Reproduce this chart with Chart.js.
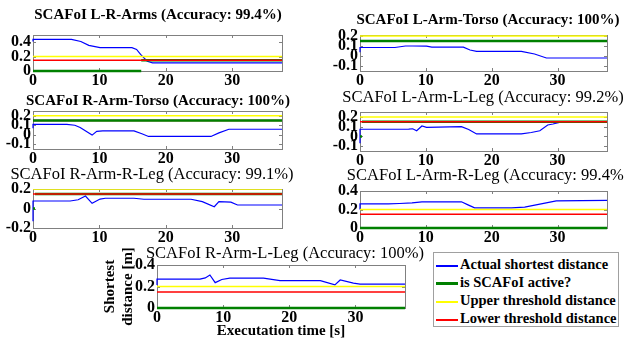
<!DOCTYPE html>
<html>
<head>
<meta charset="utf-8">
<script src="https://cdn.jsdelivr.net/npm/chart.js@4.4.1/dist/chart.umd.min.js"></script>
<style>
  html, body { margin: 0; padding: 0; background: #fff; width: 624px; height: 341px; overflow: hidden; position: relative; }
  canvas { position: absolute; }
  #legend { position: absolute; left: 433px; top: 252px; width: 186px; height: 75px; box-sizing: border-box;
            border: 1px solid #a0a0a0; background: #fff; padding-top: 2px;
            font-family: 'Liberation Serif', serif; font-weight: bold; font-size: 14.5px; color: #000; }
  .row { height: 18px; line-height: 18px; white-space: nowrap; }
  .swatch { display: inline-block; width: 22px; vertical-align: middle; margin: 0 2px 0 2px; }
</style>
</head>
<body>
<div id="legend"></div>
<script>
// shared axes / thresholds
const x_ticks = [0, 10, 20, 30]
const time_max = 37.5
const upper_threshold = 0.2
const lower_threshold = 0.15

const series_labels = ['Actual shortest distance', 'is SCAFoI active?', 'Upper threshold distance', 'Lower threshold distance']

// L-R-Arms
const l_r_arms_time = [0, 0, 5.8, 7.2, 8.4, 10.1, 14.9, 15.6, 16.2, 17.2, 18, 37.5]
const l_r_arms_dist = [0.41, 0.44, 0.44, 0.41, 0.356, 0.324, 0.324, 0.3, 0.23, 0.135, 0.113, 0.113]
const l_r_arms_active_time = [0, 16.3, 16.3, 37.5]
const l_r_arms_active = [0, 0, 1, 1]

// L-Arm-Torso
const l_arm_torso_time = [0, 0, 5.3, 6.9, 8, 10.1, 10.9, 15.7, 16.7, 17.7, 24.5, 26.5, 28.3, 37.5]
const l_arm_torso_dist = [0.037, 0.085, 0.085, 0.1, 0.1, 0.098, 0.088, 0.088, 0.06, 0.047, 0.047, 0.02, -0.02, -0.02]
const l_arm_torso_active_time = [0, 37.5]
const l_arm_torso_active = [1, 1]

// R-Arm-Torso
const r_arm_torso_time = [0, 0, 5.1, 6.3, 7.1, 8.9, 9.6, 10.5, 15.2, 16.4, 17.4, 26.8, 28, 29.5, 37.5]
const r_arm_torso_dist = [0.069, 0.11, 0.11, 0.1, 0.076, -0.004, 0.036, 0.041, 0.041, 0.01, -0.018, -0.018, 0.02, 0.058, 0.058]
const r_arm_torso_active_time = [0, 37.5]
const r_arm_torso_active = [1, 1]

// L-Arm-L-Leg
const l_arm_l_leg_time = [0, 0, 7.4, 8.0, 8.6, 9.4, 10.1, 15.4, 16.5, 17.7, 24.5, 26, 27.3, 28.5, 29.3, 30.6, 37.5]
const l_arm_l_leg_dist = [-0.071, 0.073, 0.075, 0.078, 0.058, 0.107, 0.093, 0.1, 0.07, 0.025, 0.025, 0.04, 0.058, 0.117, 0.127, 0.148, 0.15]
const l_arm_l_leg_active_time = [0, 0.3, 0.3, 37.5]
const l_arm_l_leg_active = [0, 0, 1, 1]

// R-Arm-R-Leg
const r_arm_r_leg_time = [0, 0, 5.6, 6.8, 7.9, 8.9, 10.1, 10.9, 15.2, 16.7, 23.8, 25.5, 27.3, 28, 29.8, 30.8, 37.5]
const r_arm_r_leg_dist = [-0.13, 0.077, 0.077, 0.09, 0.128, 0.053, 0.097, 0.105, 0.105, 0.095, 0.095, 0.07, 0.018, 0.07, 0.065, 0.036, 0.036]
const r_arm_r_leg_active_time = [0, 0.3, 0.3, 37.5]
const r_arm_r_leg_active = [0, 0, 1, 1]

// L-Arm-R-Leg
const l_arm_r_leg_time = [0, 0, 4.3, 6, 7.9, 9.4, 15.4, 16.4, 17.4, 23, 25, 27.5, 29.8, 37.5]
const l_arm_r_leg_dist = [0.2, 0.261, 0.261, 0.265, 0.272, 0.283, 0.283, 0.25, 0.218, 0.218, 0.225, 0.26, 0.293, 0.298]
const l_arm_r_leg_active_time = [0, 37.5]
const l_arm_r_leg_active = [0, 0]

// R-Arm-L-Leg
const r_arm_l_leg_time = [0, 0, 6.5, 7.3, 8, 8.8, 9.8, 11, 16.1, 18.6, 24.7, 26.9, 27.7, 29.7, 30.7, 37.5]
const r_arm_l_leg_dist = [0.215, 0.268, 0.268, 0.28, 0.307, 0.236, 0.265, 0.277, 0.277, 0.255, 0.255, 0.215, 0.261, 0.231, 0.222, 0.222]
const r_arm_l_leg_active_time = [0, 37.5]
const r_arm_l_leg_active = [0, 0]

// y tick labels
const ticks_half = [0, 0.2, 0.4]
const ticks_torso = [-0.1, 0, 0.1, 0.2]
const ticks_leg = [-0.2, 0, 0.2]

const FONT = "'Liberation Serif', serif"
Chart.defaults.font.family = FONT
Chart.defaults.color = '#000'

const BLUE = '#0000ff', GREEN = '#008000', YELLOW = '#ffff00', RED = '#ff0000', BOX = '#808080'

// box = [left, top, right, bottom] of the plot area, title_at = [center x, center y]
const panels = [
  { title: 'SCAFoI L-R-Arms (Accuracy: 99.4%)', time: l_r_arms_time, dist: l_r_arms_dist,
    active_time: l_r_arms_active_time, active: l_r_arms_active, y_min: 0, y_max: 0.5, y_ticks: ticks_half,
    box: [33, 35, 282, 71], title_at: [158, 15], bold: true, red_on_top: true },
  { title: 'SCAFoI L-Arm-Torso (Accuracy: 100%)', time: l_arm_torso_time, dist: l_arm_torso_dist,
    active_time: l_arm_torso_active_time, active: l_arm_torso_active, y_min: -0.15, y_max: 0.21, y_ticks: ticks_torso,
    box: [360, 35, 607, 71], title_at: [488, 20], bold: true, red_on_top: false },
  { title: 'SCAFoI R-Arm-Torso (Accuracy: 100%)', time: r_arm_torso_time, dist: r_arm_torso_dist,
    active_time: r_arm_torso_active_time, active: r_arm_torso_active, y_min: -0.15, y_max: 0.25, y_ticks: ticks_torso,
    box: [33, 111, 282, 149], title_at: [158, 101], bold: true, red_on_top: false },
  { title: 'SCAFoI L-Arm-L-Leg (Accuracy: 99.2%)', time: l_arm_l_leg_time, dist: l_arm_l_leg_dist,
    active_time: l_arm_l_leg_active_time, active: l_arm_l_leg_active, y_min: -0.15, y_max: 0.25, y_ticks: ticks_torso,
    box: [360, 112, 607, 151], title_at: [483, 98], bold: false, red_on_top: true },
  { title: 'SCAFoI R-Arm-R-Leg (Accuracy: 99.1%)', time: r_arm_r_leg_time, dist: r_arm_r_leg_dist,
    active_time: r_arm_r_leg_active_time, active: r_arm_r_leg_active, y_min: -0.2, y_max: 0.2, y_ticks: ticks_leg,
    box: [33, 189, 282, 228], title_at: [152, 175], bold: false, red_on_top: true },
  { title: 'SCAFoI L-Arm-R-Leg (Accuracy: 99.4%)', time: l_arm_r_leg_time, dist: l_arm_r_leg_dist,
    active_time: l_arm_r_leg_active_time, active: l_arm_r_leg_active, y_min: 0, y_max: 0.4, y_ticks: ticks_half,
    box: [360, 191, 607, 228], title_at: [488, 176], bold: false, red_on_top: true },
  { title: 'SCAFoI R-Arm-L-Leg (Accuracy: 100%)', time: r_arm_l_leg_time, dist: r_arm_l_leg_dist,
    active_time: r_arm_l_leg_active_time, active: r_arm_l_leg_active, y_min: 0, y_max: 0.4, y_ticks: ticks_half,
    box: [157, 265, 405, 308], title_at: [285, 254], bold: false, red_on_top: true,
    y_width: 56, x_height: 32,
    y_title: ['Shortest', 'distance [m]'], x_title: 'Executation time [s]' }
]

function to_points(xs, ys) {
  return xs.map((x, i) => ({ x: x, y: ys[i] }))
}

// the on/off switch of the active flag is a jump, not a drawn line
const hide_jumps = {
  borderColor: (ctx) => ctx.p0.parsed.x === ctx.p1.parsed.x ? 'rgba(0,0,0,0)' : undefined
}

// small inward tick marks on all four sides of the box, like matlab
const inner_ticks = {
  id: 'inner_ticks',
  beforeDatasetsDraw(chart) {
    const { ctx, chartArea: a, scales } = chart
    ctx.save()
    ctx.strokeStyle = BOX
    ctx.lineWidth = 1
    ctx.beginPath()
    scales.x.ticks.forEach(t => {
      const px = Math.round(scales.x.getPixelForValue(t.value)) + 0.5
      ctx.moveTo(px, a.bottom); ctx.lineTo(px, a.bottom - 3)
      ctx.moveTo(px, a.top); ctx.lineTo(px, a.top + 3)
    })
    scales.y.ticks.forEach(t => {
      const py = Math.round(scales.y.getPixelForValue(t.value)) + 0.5
      ctx.moveTo(a.left, py); ctx.lineTo(a.left + 3, py)
      ctx.moveTo(a.right, py); ctx.lineTo(a.right - 3, py)
    })
    ctx.stroke()
    ctx.restore()
  }
}

function draw_panel(p) {
  const [L, T, R, B] = p.box
  const [cx, ty] = p.title_at
  const fs = p.bold ? 15 : 16.5
  const yw = p.y_width || (L < 300 ? 33 : 40)
  const xh = p.x_height || 20
  const left = L - yw
  const top = Math.round(ty - 0.6 * fs)
  const right_pad = 2 * cx - left - R     // width of the empty right axis, centers the title
  const width = R - left + right_pad
  const height = B - top + xh

  const canvas = document.createElement('canvas')
  canvas.width = width
  canvas.height = height
  canvas.style.left = left + 'px'
  canvas.style.top = top + 'px'
  document.body.appendChild(canvas)

  const level = (v) => v * lower_threshold
  const blue = { label: series_labels[0], data: to_points(p.time, p.dist), borderColor: BLUE, borderWidth: 1.2, order: 3 }
  const green = { label: series_labels[1], data: to_points(p.active_time, p.active.map(level)), borderColor: GREEN,
                  borderWidth: 2.5, order: p.red_on_top ? 2 : 0, segment: hide_jumps }
  const yellow = { label: series_labels[2], data: to_points([0, time_max], [upper_threshold, upper_threshold]),
                   borderColor: YELLOW, borderWidth: 1.5, order: 1 }
  const red = { label: series_labels[3], data: to_points([0, time_max], [lower_threshold, lower_threshold]),
                borderColor: RED, borderWidth: 1.5, order: p.red_on_top ? 0 : 2 }

  const tick_font = { size: 16, weight: 'bold', family: FONT }
  const axis_title_font = { size: 15, weight: 'bold', family: FONT }

  new Chart(canvas, {
    type: 'line',
    data: { datasets: [blue, green, yellow, red] },
    plugins: [inner_ticks],
    options: {
      responsive: false,
      animation: false,
      layout: { padding: 0 },
      elements: { point: { radius: 0 }, line: { tension: 0 } },
      datasets: { line: { clip: { left: 4, right: 4, top: 0, bottom: 4 } } },
      plugins: {
        legend: { display: false },
        tooltip: { enabled: false },
        title: {
          display: true,
          text: p.title,
          color: '#000',
          font: { size: fs, weight: p.bold ? 'bold' : 'normal', family: FONT },
          padding: { top: 0, bottom: T - top - 1.2 * fs }
        }
      },
      scales: {
        x: {
          type: 'linear', min: 0, max: time_max,
          afterBuildTicks: (s) => { s.ticks = x_ticks.map(v => ({ value: v })) },
          afterFit: (s) => { s.height = xh },
          grid: { display: false, drawTicks: false },
          border: { color: BOX, width: 1 },
          ticks: { font: tick_font, padding: 0, maxRotation: 0, autoSkip: false, callback: v => String(v) },
          title: p.x_title ? { display: true, text: p.x_title, font: axis_title_font, padding: { top: 0, bottom: 0 } } : { display: false }
        },
        y: {
          type: 'linear', min: p.y_min, max: p.y_max,
          afterBuildTicks: (s) => { s.ticks = p.y_ticks.map(v => ({ value: v })) },
          afterFit: (s) => { s.width = yw },
          grid: { display: false, drawTicks: false },
          border: { color: BOX, width: 1 },
          ticks: { font: tick_font, padding: 2, autoSkip: false, callback: v => String(v) },
          title: p.y_title ? { display: true, text: p.y_title, font: axis_title_font, padding: { top: 0, bottom: 0 } } : { display: false }
        },
        xT: {
          type: 'linear', position: 'top',
          afterFit: (s) => { s.height = 0 },
          grid: { display: false, drawTicks: false },
          border: { color: BOX, width: 1 },
          ticks: { display: false }
        },
        yR: {
          type: 'linear', position: 'right',
          afterFit: (s) => { s.width = right_pad },
          grid: { display: false, drawTicks: false },
          border: { color: BOX, width: 1 },
          ticks: { display: false }
        }
      }
    }
  })
}

panels.forEach(draw_panel)

// legend box
const legend_colors = [BLUE, GREEN, YELLOW, RED]
const legend_widths = [2, 3, 2, 2]
const legend = document.getElementById('legend')
series_labels.forEach((label, i) => {
  const row = document.createElement('div')
  row.className = 'row'
  const swatch = document.createElement('span')
  swatch.className = 'swatch'
  swatch.style.height = legend_widths[i] + 'px'
  swatch.style.background = legend_colors[i]
  row.appendChild(swatch)
  row.appendChild(document.createTextNode(label))
  legend.appendChild(row)
})
</script>
</body>
</html>
